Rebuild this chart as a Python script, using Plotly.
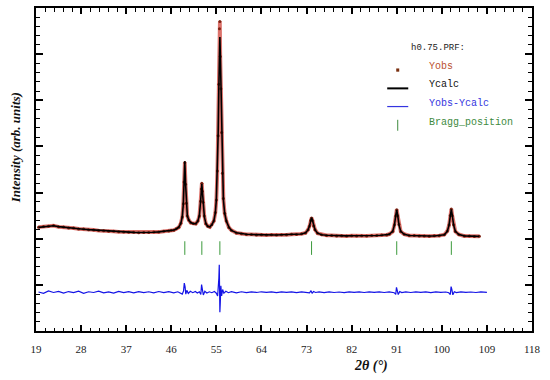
import plotly.graph_objects as go

# ---------------- data ----------------
tth_calc = [19.5, 20.5, 21.5, 22.5, 23.5, 24.5, 25.5, 26.5, 27.5, 28.5, 29.5, 30.5, 31.5,
            32.5, 33.5, 34.5, 35.5, 36.5, 37.5, 38.5, 39.5, 40.5, 41.5, 42.5, 43.5, 44.5, 45.5,
            46.0, 46.5, 47.0, 47.5, 47.9, 48.2, 48.4, 48.55, 48.7, 48.85, 49.0, 49.2, 49.5, 49.9,
            50.4, 50.9, 51.3, 51.6, 51.85, 52.0, 52.1, 52.2, 52.35, 52.6, 52.9, 53.3, 53.7, 54.1,
            54.5, 54.8, 55.0, 55.2, 55.35, 55.5, 55.62, 55.7, 55.78, 55.9, 56.05, 56.2, 56.4, 56.65,
            57.0, 57.5, 58.0, 59.0,
            60.0, 61.0, 62.0, 63.0, 64.0, 65.0, 66.0, 67.0, 68.0, 69.0, 70.0, 71.0, 72.0,
            72.8, 73.3, 73.6, 73.8, 74.0, 74.2, 74.4, 74.7, 75.2, 76.0,
            77.0, 78.0, 79.0, 80.0, 81.0, 82.0, 83.0, 84.0, 85.0, 86.0, 87.0, 88.0, 89.0,
            89.5, 90.2, 90.55, 90.8, 91.0, 91.2, 91.45, 91.8, 92.5, 93.5,
            94.5, 95.5, 96.5, 97.5, 98.5, 99.5, 100.5,
            101.1, 101.45, 101.7, 101.9, 102.1, 102.35, 102.7, 103.4, 104.5,
            105.5, 106.5, 107.5]

y_calc = [2245, 2255, 2270, 2280, 2262, 2248, 2236, 2226, 2216, 2206, 2196, 2188, 2180,
          2172, 2165, 2158, 2152, 2146, 2142, 2138, 2135, 2134, 2136, 2140, 2148, 2158, 2168,
          2175, 2190, 2210, 2250, 2330, 2480, 2750, 3200, 3680, 3200, 2760, 2500, 2400, 2350,
          2325, 2330, 2380, 2500, 2800, 3050, 3190, 3050, 2800, 2480, 2330, 2265, 2260, 2300,
          2390, 2560, 2850, 3450, 4250, 5300, 6050, 6370, 6050, 5300, 4250, 3450, 2850, 2560,
          2380, 2250, 2180, 2130,
          2105, 2096, 2090, 2086, 2083, 2081, 2080, 2082, 2085, 2088, 2092, 2096, 2102,
          2130, 2190, 2280, 2390, 2457, 2390, 2280, 2190, 2120, 2085,
          2075, 2068, 2064, 2062, 2062, 2063, 2062, 2062, 2064, 2066, 2070, 2075, 2085,
          2095, 2160, 2300, 2500, 2623, 2500, 2300, 2160, 2095, 2070,
          2064, 2060, 2058, 2058, 2060, 2068, 2085,
          2160, 2300, 2500, 2638, 2500, 2300, 2160, 2090, 2062,
          2055, 2052, 2050]

y_obs = [2250, 2262, 2268, 2285, 2258, 2252, 2232, 2230, 2212, 2210, 2192, 2190, 2176,
         2175, 2160, 2161, 2149, 2148, 2139, 2141, 2131, 2137, 2133, 2143, 2145, 2161, 2165,
         2180, 2186, 2214, 2246, 2335, 2470, 2760, 3230, 3650, 3180, 2770, 2490, 2405, 2345,
         2330, 2326, 2385, 2490, 2810, 3080, 3200, 3030, 2790, 2490, 2325, 2270, 2255, 2305,
         2385, 2570, 2840, 3470, 4230, 5350, 6550, 6710, 5950, 5250, 4300, 3420, 2870, 2550,
         2385, 2245, 2185, 2126,
         2108, 2092, 2094, 2082, 2087, 2078, 2084, 2079, 2088, 2085, 2095, 2093, 2105,
         2126, 2195, 2275, 2395, 2450, 2395, 2275, 2195, 2118, 2088,
         2072, 2071, 2060, 2066, 2058, 2066, 2059, 2065, 2061, 2069, 2067, 2078, 2082,
         2098, 2155, 2305, 2490, 2630, 2495, 2310, 2155, 2098, 2067,
         2067, 2057, 2061, 2055, 2063, 2065, 2088,
         2165, 2295, 2505, 2645, 2495, 2305, 2155, 2093, 2059,
         2058, 2049, 2053]

tth_diff = [19.5, 20.5, 21.5, 22.5, 23.5, 24.5, 25.5, 26.5, 27.5, 28.5, 29.5, 30.5, 31.5,
            32.5, 33.5, 34.5, 35.5, 36.5, 37.5, 38.5, 39.5, 40.5, 41.5, 42.5, 43.5, 44.5,
            45.5, 46.5, 47.3,
            47.8, 48.2, 48.45, 48.6, 48.75, 48.9, 49.1, 49.4, 49.8, 50.3, 50.8, 51.2,
            51.6, 51.9, 52.05, 52.2, 52.4, 52.7, 53.1, 53.6, 54.1, 54.6,
            55.0, 55.25, 55.4, 55.5, 55.58, 55.64, 55.7, 55.78, 55.9, 56.05, 56.25, 56.5,
            56.9, 57.4, 58.0,
            59.0, 60.0, 61.0, 62.0, 63.0, 64.0, 65.0, 66.0, 67.0, 68.0, 69.0, 70.0, 71.0,
            72.0, 73.0,
            73.6, 73.9, 74.1, 74.4, 74.8,
            75.5, 76.5, 77.5, 78.5, 79.5, 80.5, 81.5, 82.5, 83.5, 84.5, 85.5, 86.5, 87.5,
            88.5, 89.5, 90.2,
            90.5, 90.8, 90.95, 91.1, 91.3, 91.6, 92.0,
            92.8, 93.8, 94.8, 95.8, 96.8, 97.8, 98.8, 99.8, 100.8,
            101.4, 101.7, 101.85, 102.0, 102.2, 102.5, 102.9,
            103.8, 104.8, 105.8, 106.8, 107.8, 109.0]

y_diff = [845, 815, 870, 835, 860, 820, 855, 830, 862, 818, 850, 835, 865,
          825, 848, 822, 858, 830, 852, 826, 855, 832, 850, 825, 856, 830,
          852, 828, 850,
          820, 800, 870, 1040, 960, 800, 880, 815, 860, 830, 855, 825,
          850, 790, 1005, 900, 780, 860, 825, 850, 830, 855,
          820, 760, 960, 1150, 1437, 800, 409, 600, 980, 760, 900, 820,
          860, 830, 852,
          828, 850, 832, 848, 835, 850, 836, 846, 832, 849, 835, 847, 833,
          848, 836,
          825, 875, 815, 855, 835,
          848, 833, 846, 834, 845, 832, 848, 836, 846, 834, 847, 835, 846,
          834, 847, 836,
          830, 795, 945, 880, 790, 855, 832,
          846, 834, 847, 835, 846, 833, 847, 835, 845,
          828, 790, 962, 900, 785, 852, 833,
          846, 835, 845, 834, 846, 838]

bragg_pos = [48.7, 52.1, 55.7, 74.0, 91.0, 101.9]

x_ticks = [19, 28, 37, 46, 55, 64, 73, 82, 91, 100, 109, 118]

# ---------------- figure ----------------
BR_LO, BR_HI = 1650, 1945
bx, by = [], []
for p in bragg_pos:
    bx += [p, p, None]
    by += [BR_LO, BR_HI, None]

fig = go.Figure()
fig.add_trace(go.Scatter(x=tth_calc, y=y_obs, mode="lines+markers",
                         line=dict(color="rgba(205,55,45,0.7)", width=3.8),
                         marker=dict(color="#7e2212", size=3), name="Yobs"))
fig.add_trace(go.Scatter(x=tth_calc, y=y_calc, mode="lines",
                         line=dict(color="black", width=1.6), name="Ycalc"))
fig.add_trace(go.Scatter(x=tth_diff, y=y_diff, mode="lines",
                         line=dict(color="#1414e6", width=1.2), name="Yobs-Ycalc"))
fig.add_trace(go.Scatter(x=bx, y=by, mode="lines",
                         line=dict(color="#3c9a3c", width=1), name="Bragg_position"))

mono = "Liberation Mono, Courier New, monospace"
serif = "Liberation Serif, Times New Roman, serif"

# legend built in data coordinates
lx_sym0, lx_sym1, lx_dot, lx_txt = 89.1, 93.3, 91.2, 97.0
ann = [
    dict(x=93.4, y=6135, text="h0.75.PRF:", font=dict(family=mono, size=9, color="#222")),
    dict(x=lx_txt, y=5726, text="Yobs", font=dict(family=mono, size=10, color="#b9502e")),
    dict(x=lx_txt, y=5332, text="Ycalc", font=dict(family=mono, size=10, color="#111")),
    dict(x=lx_txt, y=4922, text="Yobs-Ycalc", font=dict(family=mono, size=10, color="#3434e0")),
    dict(x=lx_txt, y=4519, text="Bragg_position", font=dict(family=mono, size=10, color="#3e8a3e")),
]
annotations = []
for a in ann:
    annotations.append(dict(xref="x", yref="y", xanchor="left", yanchor="middle",
                            showarrow=False, **a))
annotations.append(dict(xref="paper", yref="paper", x=(371 - 36) / 496, y=(330.7 - 366) / 324.7,
                        text="<b><i>2θ (°)</i></b>", showarrow=False,
                        font=dict(family=serif, size=14, color="#111"),
                        xanchor="center", yanchor="middle"))
annotations.append(dict(xref="paper", yref="paper", x=(15 - 36) / 496, y=(330.7 - 147) / 324.7,
                        text="<b><i>Intensity (arb. units)</i></b>", showarrow=False,
                        textangle=-90, font=dict(family=serif, size=13, color="#111"),
                        xanchor="center", yanchor="middle"))

shapes = [
    dict(type="line", xref="x", yref="y", x0=lx_sym0, x1=lx_sym1, y0=5258, y1=5258,
         line=dict(color="black", width=2)),
    dict(type="line", xref="x", yref="y", x0=lx_sym0, x1=lx_sym1, y0=4864, y1=4864,
         line=dict(color="#3434e0", width=1.2)),
    dict(type="line", xref="x", yref="y", x0=lx_dot, x1=lx_dot, y0=4340, y1=4577,
         line=dict(color="#3e8a3e", width=1)),
    dict(type="rect", xref="x", yref="y", x0=lx_dot - 0.3, x1=lx_dot + 0.3, y0=5620, y1=5690,
         line=dict(width=0), fillcolor="#7a3010"),
]

fig.update_layout(
    width=550, height=380,
    margin=dict(l=36, r=18, t=6, b=49),
    paper_bgcolor="white", plot_bgcolor="white",
    showlegend=False,
    annotations=annotations, shapes=shapes,
    xaxis=dict(range=[19, 118], tickmode="array", tickvals=x_ticks,
               ticktext=[str(v) for v in x_ticks],
               ticks="inside", ticklen=6, tickwidth=1.5, tickcolor="black",
               showline=True, linewidth=2, linecolor="black", mirror="ticks",
               showgrid=False, zeroline=False,
               minor=dict(tickmode="linear", tick0=19, dtick=1.8, ticks="inside", ticklen=3.5,
                          tickwidth=1, tickcolor="black", showgrid=False),
               tickfont=dict(family=serif, size=11, color="#222"),
               ticklabelstandoff=7),
    yaxis=dict(range=[0, 7000], tick0=0, dtick=1000, showticklabels=False,
               ticks="inside", ticklen=7, tickwidth=1.5, tickcolor="black",
               showline=True, linewidth=2, linecolor="black", mirror="ticks",
               showgrid=False, zeroline=False,
               minor=dict(dtick=200, ticks="inside", ticklen=4, tickwidth=1,
                          tickcolor="black", showgrid=False)),
)

fig.write_html("out.html", config={"displayModeBar": False},
               post_script="document.body.style.margin='0';document.body.style.overflow='hidden';")
